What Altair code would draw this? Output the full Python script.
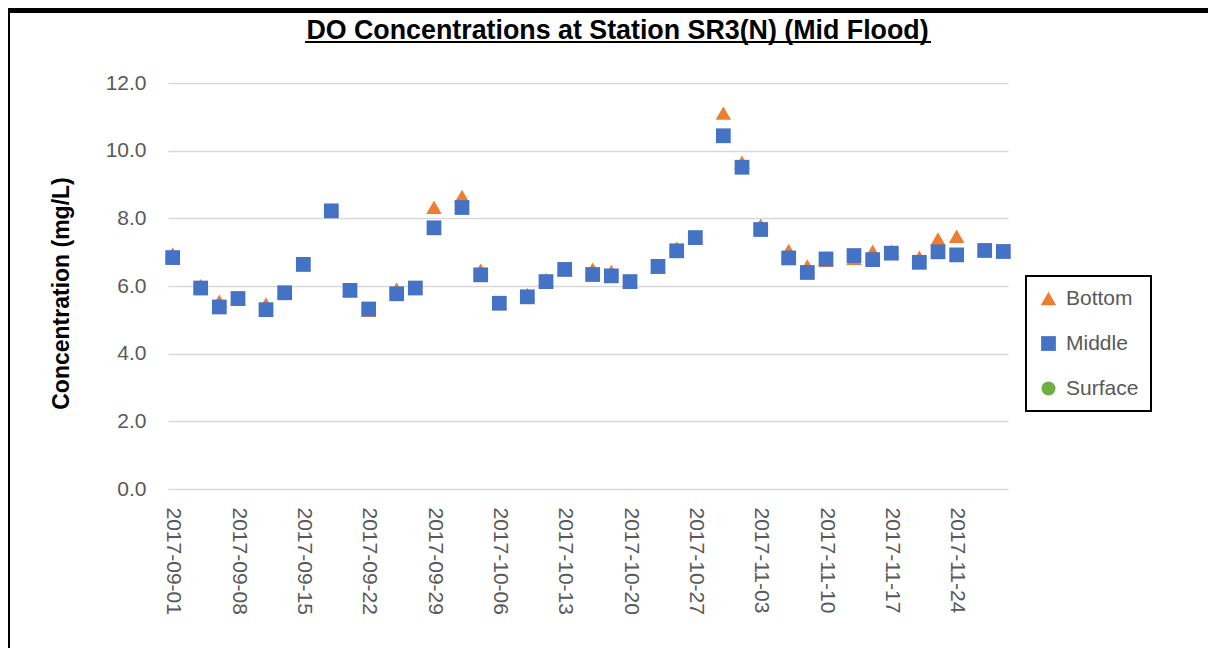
import altair as alt
import pandas as pd

dates = ["2017-09-01", "2017-09-04", "2017-09-06", "2017-09-08", "2017-09-11", "2017-09-13",
         "2017-09-15", "2017-09-18", "2017-09-20", "2017-09-22", "2017-09-25", "2017-09-27",
         "2017-09-29", "2017-10-02", "2017-10-04", "2017-10-06", "2017-10-09", "2017-10-11",
         "2017-10-13", "2017-10-16", "2017-10-18", "2017-10-20", "2017-10-23", "2017-10-25",
         "2017-10-27", "2017-10-30", "2017-11-01", "2017-11-03", "2017-11-06", "2017-11-08",
         "2017-11-10", "2017-11-13", "2017-11-15", "2017-11-17", "2017-11-20", "2017-11-22",
         "2017-11-24", "2017-11-27", "2017-11-29"]

bottom = [6.95, 6.01, 5.55, 5.62, 5.47, 5.84, 6.63, 8.26, 5.88, 5.28, 5.91, 5.96, 8.33,
          8.65, 6.47, 5.49, 5.75, 6.19, 6.50, 6.50, 6.43, 6.13, 6.55, 7.12, 7.46, 11.11,
          9.66, 7.80, 7.05, 6.59, 6.76, 6.82, 7.03, 7.03, 6.85, 7.39, 7.47, 7.08, 7.05]

middle = [6.84, 5.94, 5.38, 5.63, 5.30, 5.80, 6.64, 8.22, 5.87, 5.32, 5.77, 5.94, 7.72,
          8.32, 6.33, 5.49, 5.68, 6.13, 6.49, 6.34, 6.30, 6.13, 6.58, 7.04, 7.43, 10.44,
          9.51, 7.67, 6.83, 6.40, 6.80, 6.90, 6.78, 6.97, 6.70, 7.01, 6.92, 7.05, 7.02]

surface = []  # no visible surface points in the reference

series_names = ["Bottom", "Middle", "Surface"]
series_colors = ["#ED7D31", "#4472C4", "#70AD47"]
series_shapes = ["triangle-up", "square", "circle"]
series_sizes = [240, 196, 196]

tick_dates = ["2017-09-01", "2017-09-08", "2017-09-15", "2017-09-22", "2017-09-29",
              "2017-10-06", "2017-10-13", "2017-10-20", "2017-10-27", "2017-11-03",
              "2017-11-10", "2017-11-17", "2017-11-24"]
y_ticks = [0, 2, 4, 6, 8, 10, 12]

title_text = "DO Concentrations at Station SR3(N) (Mid Flood)"
y_title = "Concentration (mg/L)"

rows = []
for name, vals in (("Bottom", bottom), ("Middle", middle), ("Surface", surface)):
    for d, v in zip(dates, vals):
        rows.append({"date": d, "series": name, "value": v})
df = pd.DataFrame(rows)


def dt(s, hours=0):
    y, m, d = (int(p) for p in s.split("-"))
    return alt.DateTime(year=y, month=m, date=d, hours=hours, utc=True)


FONT = "Liberation Sans"

legend = alt.Legend(
    title=None, orient="none", legendX=858, legendY=193,
    strokeColor="black", padding=12, fillColor="white",
    labelFont=FONT, labelFontSize=21, labelColor="#595959",
    symbolSize=196, rowPadding=23, labelOffset=7,
    symbolStrokeWidth=0, symbolOpacity=1,
)

points = alt.Chart(df).mark_point(filled=True, opacity=1, strokeWidth=0).encode(
    x=alt.X(
        "date:T",
        scale=alt.Scale(type="utc", domain=[dt("2017-08-31", 12), dt("2017-11-29", 12)]),
        axis=alt.Axis(
            title=None, values=[dt(s) for s in tick_dates],
            labelExpr="utcFormat(datum.value, '%Y-%m-%d')",
            labelAngle=90, labelAlign="left", labelBaseline="middle",
            labelFont=FONT, labelFontSize=21, labelColor="#595959",
            labelPadding=18, ticks=False, tickSize=0, domain=False, grid=False,
            labelOverlap=False,
        ),
    ),
    y=alt.Y(
        "value:Q",
        scale=alt.Scale(domain=[0, 12], nice=False, zero=True),
        axis=alt.Axis(
            values=y_ticks, format=".1f", title=y_title,
            titleFont=FONT, titleFontSize=23, titleFontWeight="bold", titleColor="black",
            titleAngle=270, titleX=-100, titleY=210, titleAlign="center",
            titleBaseline="alphabetic",
            labelFont=FONT, labelFontSize=21, labelColor="#595959", labelPadding=22,
            ticks=False, tickSize=0, domain=False, grid=True,
            gridColor="#d9d9d9", gridWidth=1.5,
        ),
    ),
    color=alt.Color("series:N", scale=alt.Scale(domain=series_names, range=series_colors),
                    legend=legend),
    shape=alt.Shape("series:N", scale=alt.Scale(domain=series_names, range=series_shapes),
                    legend=legend),
    size=alt.Size("series:N", scale=alt.Scale(domain=series_names, range=series_sizes),
                  legend=None),
    order=alt.Order("ord:Q"),
).transform_calculate(ord="datum.series == 'Bottom' ? 2 : (datum.series == 'Middle' ? 3 : 1)")

deco = pd.DataFrame({"k": [0]})

title = alt.Chart(deco).mark_text(
    text=title_text, font=FONT, fontSize=26.8, fontWeight="bold", color="black",
    align="center", baseline="alphabetic",
).encode(x=alt.value(449.5), y=alt.value(-44))

underline = alt.Chart(deco).mark_rule(color="black", strokeWidth=2).encode(
    x=alt.value(137), x2=alt.value(763), y=alt.value(-41)
)
border_top = alt.Chart(deco).mark_rule(color="black", strokeWidth=5).encode(
    x=alt.value(-170), x2=alt.value(1100), y=alt.value(-72.5)
)
border_left = alt.Chart(deco).mark_rule(color="black", strokeWidth=5).encode(
    x=alt.value(-160.5), y=alt.value(-80), y2=alt.value(600)
)

chart = alt.layer(points, title, underline, border_top, border_left).properties(
    width=840, height=406,
    autosize=alt.AutoSizeParams(type="none"),
    padding={"left": 160, "top": 75, "right": 200, "bottom": 159},
).configure_view(stroke=None).configure_legend(strokeWidth=2)

chart.save("out.html", embed_options={"renderer": "svg", "actions": False})
